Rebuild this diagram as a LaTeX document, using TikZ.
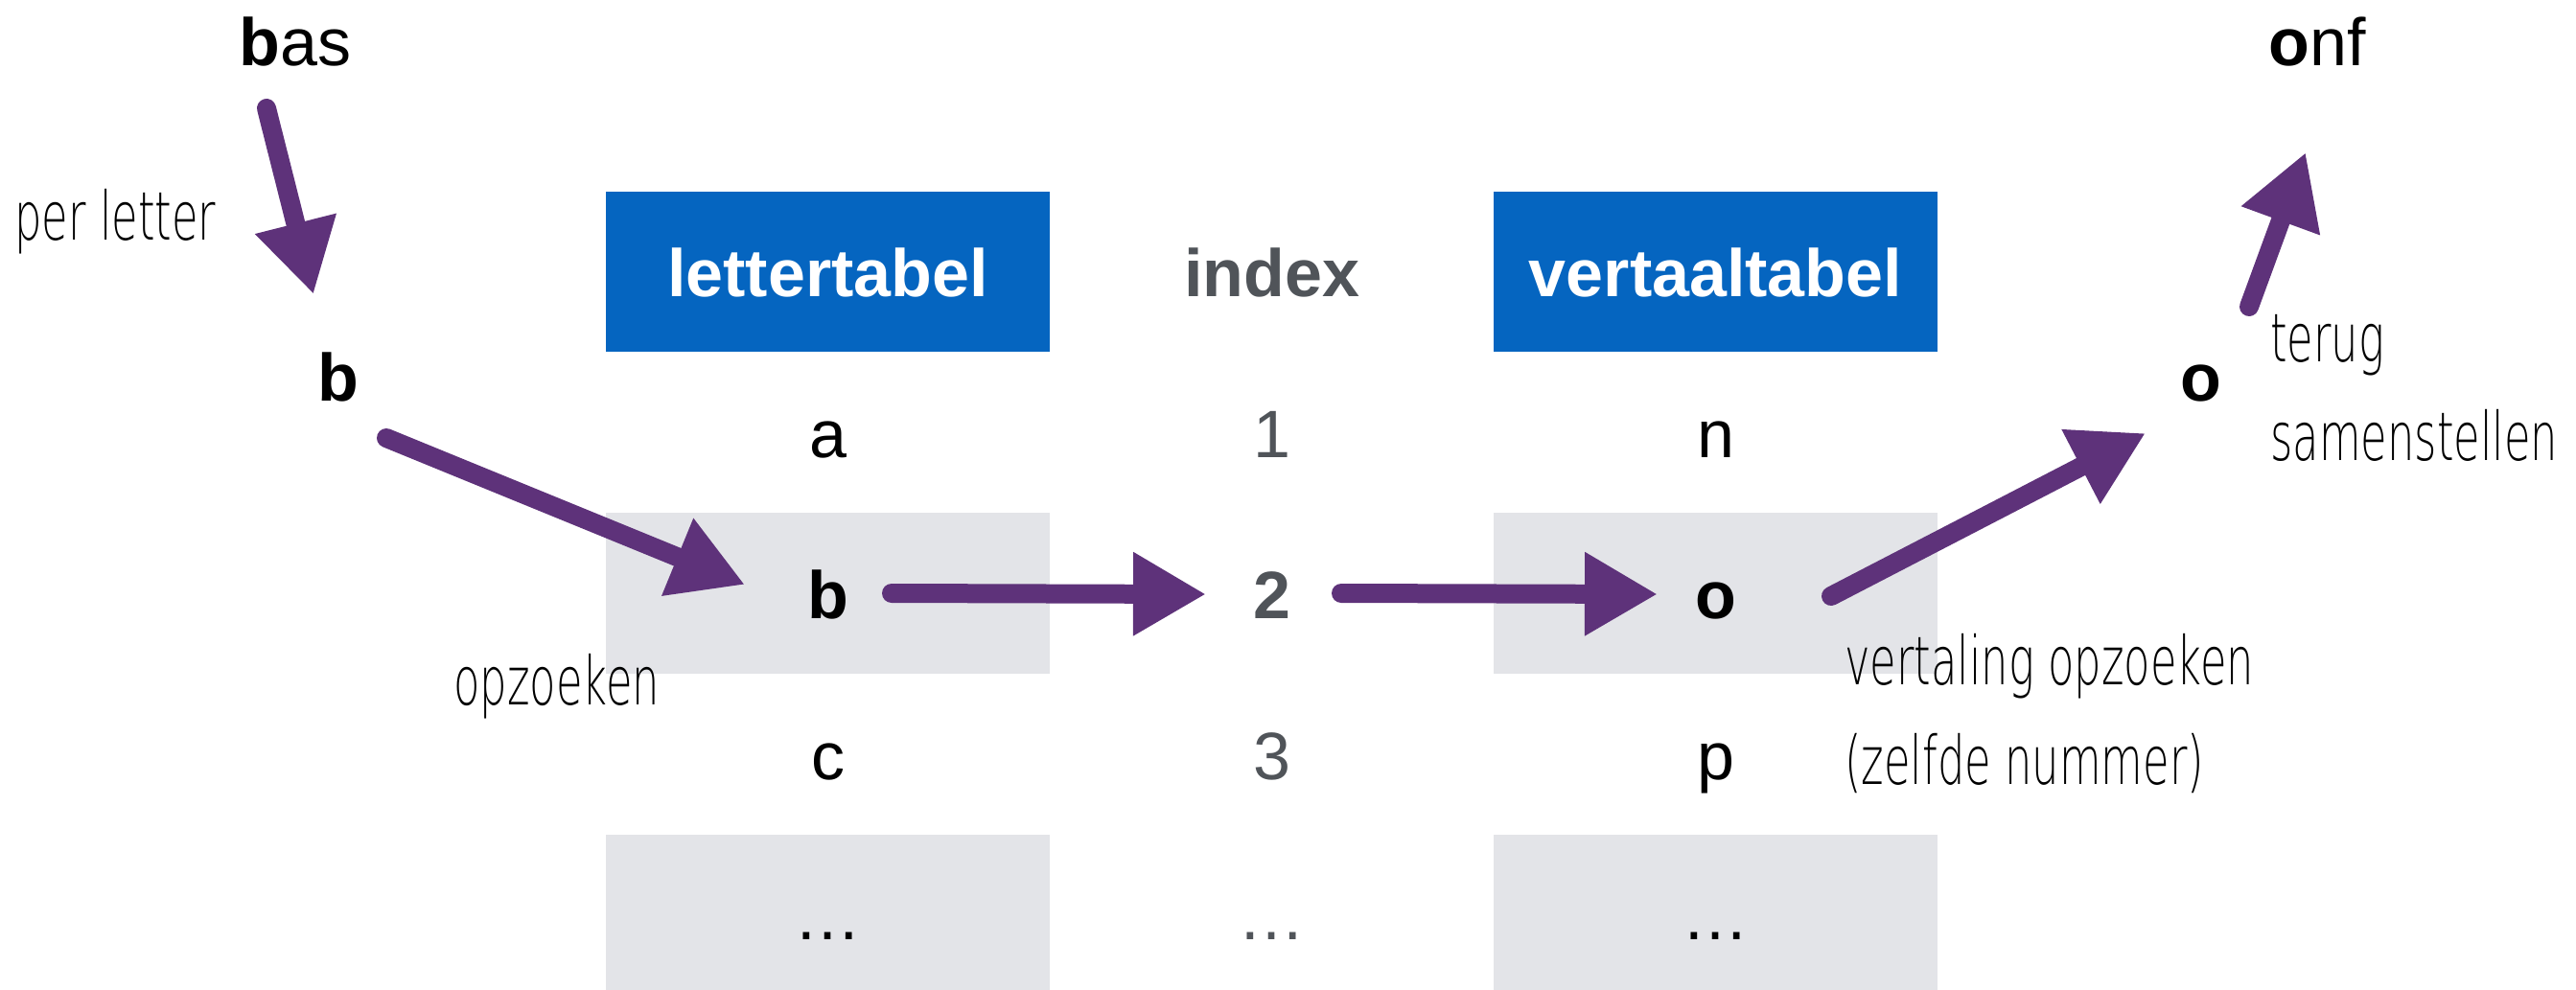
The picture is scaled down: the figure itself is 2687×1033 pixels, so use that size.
\documentclass[tikz,border=0pt]{standalone}
\usepackage{fontspec}
\setmainfont{Liberation Sans}
\newfontfamily\handfont[FakeStretch=0.64]{DejaVu Sans ExtraLight}
\usetikzlibrary{arrows.meta}

\definecolor{tblblue}{RGB}{5,101,192}
\definecolor{rowgray}{RGB}{227,228,232}
\definecolor{idxgray}{RGB}{80,84,89}
\definecolor{brushpurple}{RGB}{94,50,122}

\tikzset{
  cell/.style={minimum width=231.5pt, minimum height=83.9pt, inner sep=0pt,
    outer sep=0pt, text height=26pt, text depth=0pt,
    font=\fontsize{35}{40}\selectfont},
  hdr/.style={cell, fill=tblblue, text=white, font=\fontsize{35}{40}\selectfont\bfseries},
  idxhdr/.style={cell, text=idxgray, font=\fontsize{35}{40}\selectfont\bfseries},
  idx/.style={cell, text=idxgray},
  shaded/.style={fill=rowgray},
  word/.style={inner sep=0pt, font=\fontsize{35}{40}\selectfont},
  note/.style={inner sep=0pt, font=\handfont\fontsize{35}{40}\selectfont},
  brush/.style={draw=brushpurple, line width=10pt, line cap=round,
    -{Triangle[length=38pt,width=41pt]}, brushpurple},
}

\begin{document}
\begin{tikzpicture}[x=0.5pt,y=-0.5pt]
\useasboundingbox (0,0) rectangle (2687,1033);

% table headers
\node[hdr]    (lt) at (863.5,283.5)  {lettertabel};
\node[idxhdr] (ix) at (1326.5,283.5) {index};
\node[hdr]    (vt) at (1789.5,283.5) {vertaaltabel};

% table rows
\node[cell]        (la) at (863.5,451)  {a};
\node[idx]         (ia) at (1326.5,451) {1};
\node[cell]        (va) at (1789.5,451) {n};

\node[cell,shaded] (lb) at (863.5,619)  {\bfseries b};
\node[idx]         (ib) at (1326.5,619) {\bfseries 2};
\node[cell,shaded] (vb) at (1789.5,619) {\bfseries o};

\node[cell]        (lc) at (863.5,787)  {c};
\node[idx]         (ic) at (1326.5,787) {3};
\node[cell]        (vc) at (1789.5,787) {p};

\node[cell,shaded] (ld) at (863.5,954.5)  {…};
\node[idx]         (id) at (1326.5,954.5) {…};
\node[cell,shaded] (vd) at (1789.5,954.5) {…};

% words
\node[word, anchor=base west] (bas)  at (249,68)   {\textbf{b}as};
\node[word, anchor=base]      (bsel) at (353,418)  {\textbf{b}};
\node[word, anchor=base]      (osel) at (2296,418) {\textbf{o}};
\node[word, anchor=base west] (onf)  at (2366,68)  {\textbf{o}nf};

% handwritten notes
\node[note, anchor=base west] (n1) at (15,250)   {per letter};
\node[note, anchor=base west] (n2) at (473,735)  {opzoeken};
\node[note, anchor=base west] (n3) at (1924,714) {vertaling opzoeken};
\node[note, anchor=base west] (n4) at (1924,818) {(zelfde nummer)};
\node[note, anchor=base west] (n5) at (2368,377) {terug};
\node[note, anchor=base west] (n6) at (2368,480) {samenstellen};

% brush arrow end points
\coordinate (a1s) at (278,113);  \coordinate (a1e) at (327,307);
\coordinate (a2s) at (403,457);  \coordinate (a2e) at (777,610);
\coordinate (a3s) at (930,619);  \coordinate (a3e) at (1258,620);
\coordinate (a4s) at (1399,619); \coordinate (a4e) at (1729,620);
\coordinate (a5s) at (1910,622); \coordinate (a5e) at (2238,452);
\coordinate (a6s) at (2346,320); \coordinate (a6e) at (2405,159);

\draw[brush] (a1s) -- (a1e);
\draw[brush] (a2s) -- (a2e);
\draw[brush] (a3s) -- (a3e);
\draw[brush] (a4s) -- (a4e);
\draw[brush] (a5s) -- (a5e);
\draw[brush] (a6s) -- (a6e);
\end{tikzpicture}
\end{document}
